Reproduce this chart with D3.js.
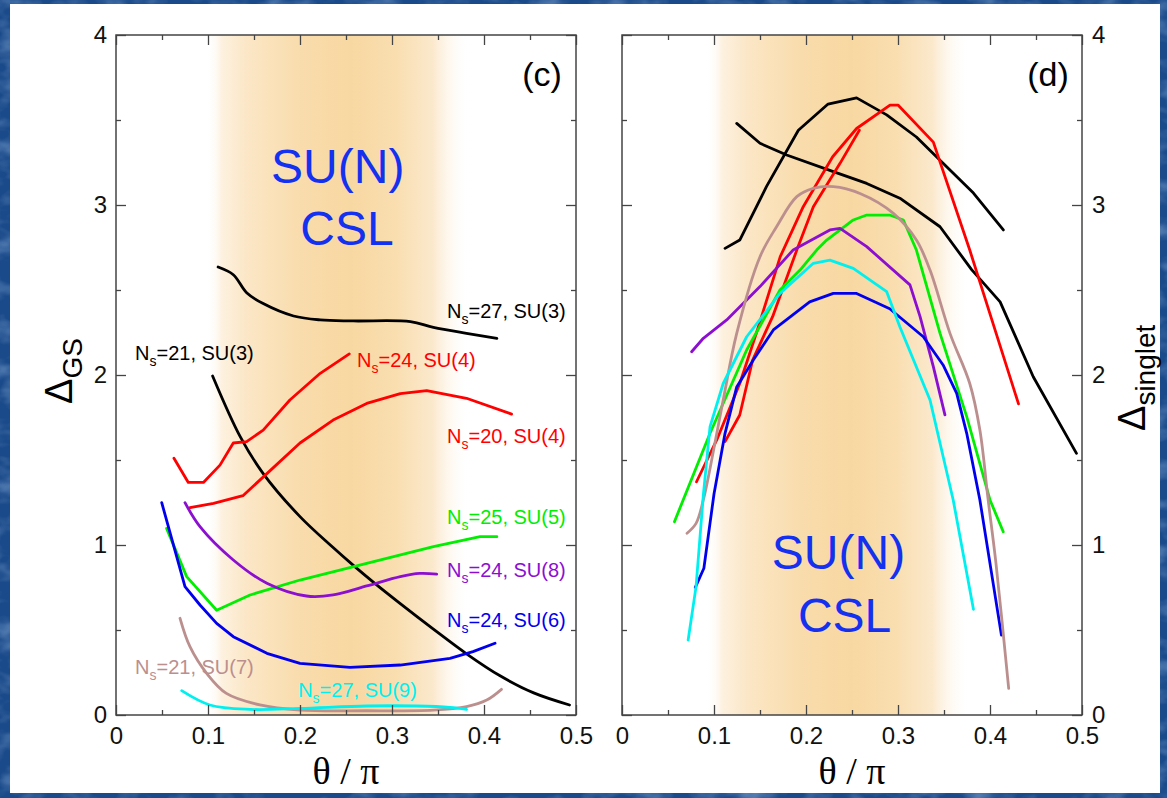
<!DOCTYPE html>
<html>
<head>
<meta charset="utf-8">
<script src="https://cdn.jsdelivr.net/npm/d3@7"></script>
<style>
  html, body { margin: 0; padding: 0; background: #1b4a8a; }
  svg { display: block; }
</style>
</head>
<body>
<svg id="fig" width="1167" height="798"></svg>
<script>
// ---- axis ticks -------------------------------------------------------
const thetaTicks = [0, 0.1, 0.2, 0.3, 0.4, 0.5];
const thetaTickLabels = ["0", "0.1", "0.2", "0.3", "0.4", "0.5"];
const thetaMinor = [0.05, 0.15, 0.25, 0.35, 0.45];
const gapTicks = [0, 1, 2, 3, 4];
const gapTickLabels = ["0", "1", "2", "3", "4"];
const gapMinor = [0.5, 1.5, 2.5, 3.5];

// ---- clusters: sites N_s and symmetry group ---------------------------
const clusterSizes = [27, 21, 24, 20, 25, 24, 24, 21, 27];
const clusterGroups = ["SU(3)", "SU(3)", "SU(4)", "SU(4)", "SU(5)", "SU(8)", "SU(6)", "SU(7)", "SU(9)"];

// ---- ground-state gap Δ_GS vs θ/π  [theta/pi, gap] ---------------------
const gsN27SU3 = [[0.111,2.635],[0.1275,2.59],[0.142,2.484],[0.160,2.42],[0.193,2.347],[0.222,2.324],[0.258,2.318],[0.32,2.314],[0.345,2.28],[0.381,2.245],[0.414,2.216]];
const gsN21SU3 = [[0.105,1.994],[0.135,1.637],[0.160,1.42],[0.2,1.167],[0.236,0.985],[0.258,0.88],[0.28,0.78],[0.309,0.655],[0.345,0.505],[0.381,0.36],[0.417,0.232],[0.454,0.13],[0.493,0.059]];
const gsN24SU4 = [[0.063,1.51],[0.0786,1.368],[0.095,1.368],[0.113,1.47],[0.1275,1.60],[0.142,1.608],[0.160,1.676],[0.189,1.853],[0.222,2.01],[0.2536,2.124]];
const gsN20SU4 = [[0.0804,1.22],[0.106,1.245],[0.138,1.29],[0.164,1.42],[0.2,1.6],[0.236,1.735],[0.2725,1.833],[0.309,1.89],[0.3377,1.908],[0.381,1.863],[0.430,1.77]];
const gsN25SU5 = [[0.055,1.098],[0.0768,0.814],[0.1094,0.616],[0.1457,0.706],[0.2,0.794],[0.2725,0.892],[0.345,0.99],[0.3957,1.049],[0.414,1.049]];
const gsN24SU8 = [[0.075,1.249],[0.0913,1.108],[0.1275,0.912],[0.164,0.775],[0.207,0.70],[0.236,0.706],[0.2725,0.759],[0.309,0.814],[0.330,0.833],[0.3486,0.829]];
const gsN24SU6 = [[0.0497,1.249],[0.075,0.755],[0.0913,0.647],[0.1094,0.539],[0.1275,0.461],[0.164,0.363],[0.2,0.304],[0.2543,0.28],[0.309,0.294],[0.363,0.333],[0.388,0.373],[0.412,0.422]];
const gsN21SU7 = [[0.0696,0.569],[0.0804,0.402],[0.0986,0.245],[0.120,0.127],[0.1565,0.059],[0.2,0.029],[0.2725,0.025],[0.345,0.029],[0.381,0.049],[0.403,0.088],[0.419,0.151]];
const gsN27SU9 = [[0.0714,0.143],[0.102,0.059],[0.1457,0.033],[0.2,0.039],[0.2725,0.053],[0.327,0.053],[0.363,0.045],[0.381,0.033]];

// ---- singlet gap Δ_singlet vs θ/π  [theta/pi, gap] ---------------------
const sgN27SU3 = [[0.112,2.745],[0.128,2.794],[0.157,3.108],[0.1917,3.44],[0.224,3.594],[0.255,3.63],[0.2877,3.53],[0.32,3.40],[0.349,3.245],[0.382,3.07],[0.4145,2.853]];
const sgN21SU3 = [[0.1247,3.48],[0.15,3.363],[0.179,3.294],[0.2297,3.196],[0.266,3.127],[0.302,3.04],[0.3457,2.872],[0.38,2.62],[0.411,2.43],[0.447,1.99],[0.494,1.539]];
const sgN24SU4 = [[0.112,1.608],[0.128,1.765],[0.142,2.088],[0.1637,2.343],[0.19,2.735],[0.208,2.99],[0.237,3.245],[0.258,3.44]];
const sgN20SU4 = [[0.081,1.372],[0.103,1.618],[0.128,1.95],[0.146,2.245],[0.172,2.696],[0.197,2.99],[0.229,3.284],[0.255,3.45],[0.2913,3.588],[0.30,3.588],[0.3384,3.37],[0.378,2.735],[0.431,1.83]];
const sgN25SU5 = [[0.057,1.137],[0.0957,1.657],[0.1355,2.147],[0.1717,2.5],[0.1935,2.617],[0.2116,2.735],[0.2225,2.794],[0.2514,2.912],[0.266,2.941],[0.291,2.941],[0.3058,2.912],[0.32,2.735],[0.3457,2.245],[0.3747,1.755],[0.40,1.265],[0.4144,1.078]];
const sgN24SU8 = [[0.0757,2.137],[0.0884,2.216],[0.1138,2.324],[0.15,2.52],[0.186,2.735],[0.226,2.853],[0.237,2.863],[0.266,2.755],[0.313,2.53],[0.324,2.343],[0.3384,2.049],[0.351,1.765]];
const sgN24SU6 = [[0.0797,0.751],[0.089,0.863],[0.1,1.3],[0.112,1.657],[0.1247,1.93],[0.1427,2.088],[0.1645,2.265],[0.204,2.43],[0.2297,2.48],[0.255,2.48],[0.291,2.39],[0.3275,2.225],[0.349,2.059],[0.3638,1.892],[0.3747,1.657],[0.389,1.265],[0.4124,0.47]];
const sgN21SU7 = [[0.0707,1.069],[0.0805,1.127],[0.0884,1.265],[0.0957,1.45],[0.110,1.853],[0.1247,2.245],[0.15,2.696],[0.168,2.872],[0.19,3.049],[0.208,3.098],[0.2297,3.108],[0.2587,3.068],[0.295,2.951],[0.32,2.794],[0.3348,2.617],[0.3565,2.245],[0.378,1.95],[0.389,1.676],[0.398,1.265],[0.4065,0.892],[0.4203,0.157]];
const sgN27SU9 = [[0.0719,0.441],[0.0805,0.755],[0.0885,1.3],[0.0957,1.696],[0.110,1.95],[0.1355,2.225],[0.1717,2.48],[0.208,2.657],[0.226,2.676],[0.2514,2.627],[0.2877,2.49],[0.302,2.284],[0.3348,1.853],[0.360,1.265],[0.382,0.622]];

// ---- drawing ----------------------------------------------------------
const W = 1167, H = 798;
const TOP = 35, BOTTOM = 715;
const SANS = "'Liberation Sans', Arial, Helvetica, sans-serif";
const SERIF = "'Liberation Serif', 'Times New Roman', serif";
const FRAME = "#444";

// one colour per cluster, same order as clusterSizes
const clusterColors = ["#000000", "#000000", "#ff0000", "#ff0000", "#00ee00", "#8c0fd1", "#0000ee", "#bc8f8f", "#00f0f0"];

const svg = d3.select("#fig");
const defs = svg.append("defs");

// mottled slide background with a white card on top
const mottle = defs.append("filter").attr("id", "mottle")
  .attr("x", 0).attr("y", 0).attr("width", "100%").attr("height", "100%");
mottle.append("feTurbulence").attr("type", "fractalNoise")
  .attr("baseFrequency", "0.03 0.05").attr("numOctaves", 3).attr("seed", 7);
mottle.append("feColorMatrix").attr("type", "matrix")
  .attr("values", "0 0 0 0 0.45  0 0 0 0 0.65  0 0 0 0 0.92  1.6 0 0 0 -0.7");
svg.append("rect").attr("width", W).attr("height", H).attr("fill", "#1b4a8a");
svg.append("rect").attr("width", W).attr("height", H).attr("filter", "url(#mottle)").attr("opacity", 0.55);
svg.append("rect").attr("x", 10).attr("y", 4).attr("width", 1150).attr("height", 789).attr("fill", "#ffffff");

const gsSeries = [gsN27SU3, gsN21SU3, gsN24SU4, gsN20SU4, gsN25SU5, gsN24SU8, gsN24SU6, gsN21SU7, gsN27SU9];
const sgSeries = [sgN27SU3, sgN21SU3, sgN24SU4, sgN20SU4, sgN25SU5, sgN24SU8, sgN24SU6, sgN21SU7, sgN27SU9];
// series drawn as straight segments (visible kinks); the rest are smoothed
const kinkedGS = new Set([2, 3, 4, 6]);
const kinkedSG = new Set([0, 1, 2, 3, 4, 5, 6, 8]);

// label anchor for each cluster in panel (c), in data units
const gsLabelAt = [[0.3598,2.335],[0.0207,2.088],[0.262,2.047],[0.3598,1.6],[0.3598,1.1235],[0.3598,0.812],[0.3598,0.518],[0.0207,0.241],[0.198,0.106]];

const panels = [
  { tag: "(c)", left: 116, right: 576, series: gsSeries, kinked: kinkedGS,
    band: [0.098, 0.385], labelSide: "left",
    csl: [[0.241, 3.13], [0.251, 2.765]] },
  { tag: "(d)", left: 622, right: 1082, series: sgSeries, kinked: kinkedSG,
    band: [0.092, 0.378], labelSide: "right",
    csl: [[0.2353, 0.859], [0.242, 0.488]] }
];

panels.forEach((p, pi) => {
  const x = d3.scaleLinear().domain([0, 0.5]).range([p.left, p.right]);
  const y = d3.scaleLinear().domain([0, 4]).range([BOTTOM, TOP]);
  const g = svg.append("g");

  // shaded CSL window
  const gid = "band" + pi;
  const grad = defs.append("linearGradient").attr("id", gid)
    .attr("gradientUnits", "userSpaceOnUse")
    .attr("x1", x(p.band[0])).attr("x2", x(p.band[1])).attr("y1", 0).attr("y2", 0);
  [[0, "#ffffff", 0], [0.06, "#fdf1df", 1], [0.16, "#fbe6c5", 1], [0.36, "#f9dcac", 1],
   [0.55, "#f8d8a2", 1], [0.72, "#f9deb0", 1], [0.86, "#fbe9cd", 1], [1, "#ffffff", 0]]
    .forEach(([o, c, a]) => grad.append("stop").attr("offset", o).attr("stop-color", c).attr("stop-opacity", a));
  g.append("rect")
    .attr("x", x(p.band[0])).attr("y", TOP)
    .attr("width", x(p.band[1]) - x(p.band[0])).attr("height", BOTTOM - TOP)
    .attr("fill", `url(#${gid})`);

  // "SU(N) CSL" caption
  ["SU(N)", "CSL"].forEach((t, i) => {
    g.append("text").attr("x", x(p.csl[i][0])).attr("y", y(p.csl[i][1]))
      .attr("text-anchor", "middle").attr("font-family", SANS).attr("font-size", 48)
      .attr("fill", "#1430f0").text(t);
  });

  // gap curves
  p.series.forEach((pts, i) => {
    const line = d3.line().x(d => x(d[0])).y(d => y(d[1]))
      .curve(p.kinked.has(i) ? d3.curveLinear : d3.curveCatmullRom.alpha(0.5));
    g.append("path").datum(pts).attr("d", line)
      .attr("fill", "none").attr("stroke", clusterColors[i])
      .attr("stroke-width", 2.8).attr("stroke-linejoin", "round").attr("stroke-linecap", "round");
  });

  // axes: major + minor ticks on all four sides, pointing inward
  const styleAxis = sel => {
    sel.select(".domain").remove();
    sel.selectAll(".tick line").attr("stroke", FRAME).attr("stroke-width", 1.3);
    sel.selectAll(".tick text").attr("font-family", SANS).attr("font-size", 24).attr("fill", "#111");
  };
  g.append("g").attr("transform", `translate(0,${BOTTOM})`)
    .call(d3.axisBottom(x).tickValues(thetaTicks).tickFormat((d, i) => thetaTickLabels[i])
      .tickSizeInner(-10).tickSizeOuter(0).tickPadding(12)).call(styleAxis);
  g.append("g").attr("transform", `translate(0,${BOTTOM})`)
    .call(d3.axisBottom(x).tickValues(thetaMinor).tickFormat("").tickSizeInner(-5).tickSizeOuter(0)).call(styleAxis);
  g.append("g").attr("transform", `translate(0,${TOP})`)
    .call(d3.axisTop(x).tickValues(thetaTicks).tickFormat("").tickSizeInner(-10).tickSizeOuter(0)).call(styleAxis);
  g.append("g").attr("transform", `translate(0,${TOP})`)
    .call(d3.axisTop(x).tickValues(thetaMinor).tickFormat("").tickSizeInner(-5).tickSizeOuter(0)).call(styleAxis);

  const leftLabels = p.labelSide === "left";
  g.append("g").attr("transform", `translate(${p.left},0)`)
    .call(d3.axisLeft(y).tickValues(gapTicks)
      .tickFormat((d, i) => leftLabels ? gapTickLabels[i] : "")
      .tickSizeInner(-10).tickSizeOuter(0).tickPadding(9)).call(styleAxis);
  g.append("g").attr("transform", `translate(${p.left},0)`)
    .call(d3.axisLeft(y).tickValues(gapMinor).tickFormat("").tickSizeInner(-5).tickSizeOuter(0)).call(styleAxis);
  g.append("g").attr("transform", `translate(${p.right},0)`)
    .call(d3.axisRight(y).tickValues(gapTicks)
      .tickFormat((d, i) => leftLabels ? "" : gapTickLabels[i])
      .tickSizeInner(-10).tickSizeOuter(0).tickPadding(10)).call(styleAxis);
  g.append("g").attr("transform", `translate(${p.right},0)`)
    .call(d3.axisRight(y).tickValues(gapMinor).tickFormat("").tickSizeInner(-5).tickSizeOuter(0)).call(styleAxis);

  // frame
  g.append("rect").attr("x", p.left).attr("y", TOP)
    .attr("width", p.right - p.left).attr("height", BOTTOM - TOP)
    .attr("fill", "none").attr("stroke", FRAME).attr("stroke-width", 1.5);

  // panel tag
  g.append("text").attr("x", x(0.463)).attr("y", 86)
    .attr("text-anchor", "middle").attr("font-family", SANS).attr("font-size", 34)
    .attr("fill", "#000").text(p.tag);

  // x-axis title
  g.append("text").attr("x", (p.left + p.right) / 2).attr("y", 784)
    .attr("text-anchor", "middle").attr("font-family", SERIF).attr("font-size", 38)
    .attr("fill", "#000").text("θ / π");

  // cluster labels (panel c only)
  if (leftLabels) {
    gsLabelAt.forEach((pos, i) => {
      const t = g.append("text").attr("x", x(pos[0])).attr("y", y(pos[1]))
        .attr("font-family", SANS).attr("font-size", 20).attr("fill", clusterColors[i]);
      t.append("tspan").text("N");
      t.append("tspan").attr("font-size", 14).attr("dy", 6).text("s");
      t.append("tspan").attr("dy", -6).text(`=${clusterSizes[i]}, ${clusterGroups[i]}`);
    });
  }
});

// y-axis titles
const yTitle = (tx, ty, sub) => {
  const t = svg.append("text").attr("transform", `translate(${tx},${ty}) rotate(-90)`)
    .attr("font-family", SANS).attr("font-size", 38).attr("fill", "#000");
  t.append("tspan").text("Δ");
  t.append("tspan").attr("font-size", 28).attr("dy", 10).text(sub);
};
yTitle(72, 404, "GS");
yTitle(1145, 431, "singlet");
</script>
</body>
</html>
